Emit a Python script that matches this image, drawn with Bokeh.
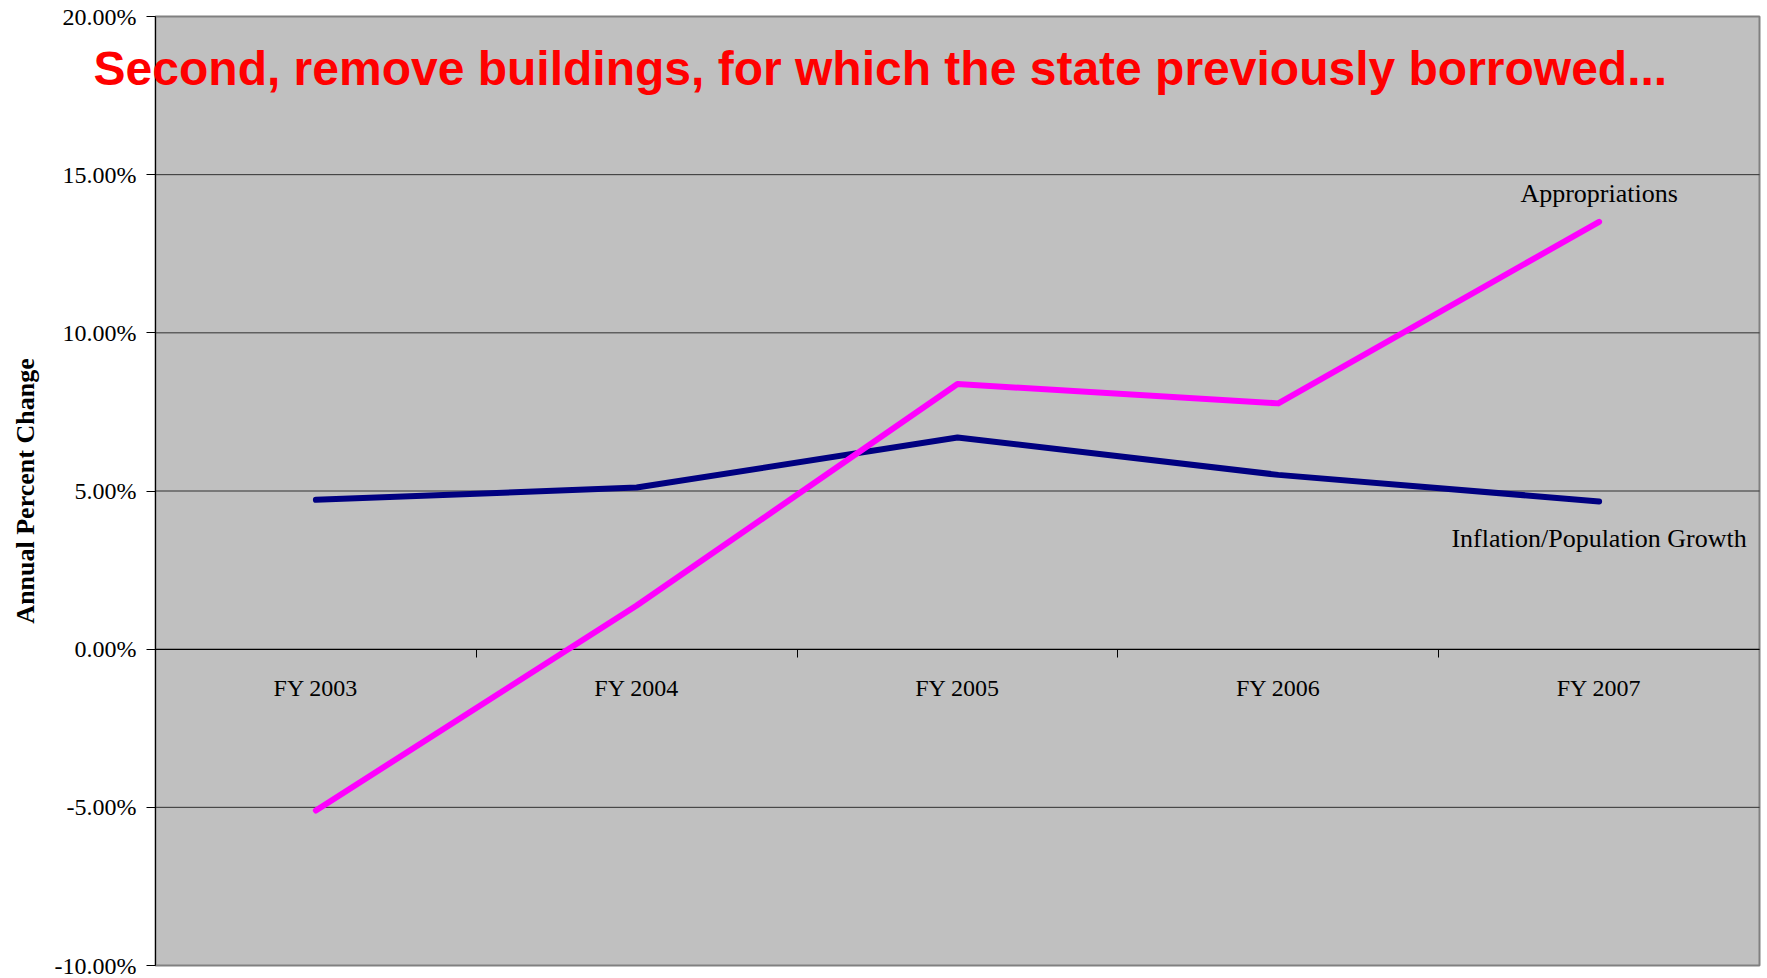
from bokeh.plotting import figure
from bokeh.models import (LinearAxis, FixedTicker, PrintfTickFormatter, Range1d,
                          Label)
from bokeh.embed import file_html
from bokeh.resources import INLINE

# ---- data ----
categories = ["FY 2003", "FY 2004", "FY 2005", "FY 2006", "FY 2007"]
appropriations = [-5.10, 1.38, 8.38, 7.77, 13.51]
inflation_population = [4.72, 5.11, 6.69, 5.51, 4.67]
y_ticks = [-10, -5, 0, 5, 10, 15, 20]
title_text = "Second, remove buildings, for which the state previously borrowed..."
y_label = "Annual Percent Change"
series_labels = ["Appropriations", "Inflation/Population Growth"]

n = len(categories)
xc = [i + 0.5 for i in range(n)]
boundaries = list(range(1, n))
y_lo, y_hi = y_ticks[0], y_ticks[-1]

SERIF = "Liberation Serif"

# The frame covers the whole canvas; the gray chart area sits inside it at
# pixels x 155..1759, y 16..965.
W, H = 1767, 978
left_px, right_px, top_px, bottom_px = 155.0, 1759.0, 16.0, 965.0
ux = (right_px - left_px) / n
uy = (bottom_px - top_px) / (y_hi - y_lo)
x_start = -left_px / ux
x_end = n + (W - right_px) / ux
y_end = y_hi + top_px / uy
y_start = y_lo - (H - bottom_px) / uy

p = figure(width=W, height=H, output_backend="svg", toolbar_location=None,
           x_range=Range1d(x_start, x_end), y_range=Range1d(y_start, y_end),
           x_axis_location=None, y_axis_location=None,
           min_border_left=0, min_border_top=0, min_border_bottom=0,
           min_border_right=0, title=None)
p.background_fill_color = "white"
p.border_fill_color = "white"
p.outline_line_color = None
p.grid.visible = False

# gray chart area with border
p.quad(left=[0], right=[n], bottom=[y_lo], top=[y_hi], fill_color="#C0C0C0",
       line_color="#808080", line_width=2, level="image")

# horizontal grid lines
inner = y_ticks[1:-1]
p.segment(x0=[0] * len(inner), x1=[n] * len(inner), y0=inner, y1=inner,
          line_color="#303030", line_width=1, level="image")

# y axis (fixed at the chart's left edge)
yax = LinearAxis(ticker=FixedTicker(ticks=y_ticks), fixed_location=0,
                 bounds=(y_lo, y_hi),
                 formatter=PrintfTickFormatter(format="%.2f%%"), level="underlay")
yax.axis_line_color = "black"
yax.axis_line_width = 1
yax.major_tick_line_color = "black"
yax.major_tick_out = 9
yax.major_tick_in = 0
yax.minor_tick_line_color = None
yax.major_label_standoff = 10
yax.major_label_text_font = SERIF
yax.major_label_text_font_size = "24px"
yax.major_label_text_color = "black"
yax.axis_label = y_label
yax.axis_label_text_font = SERIF
yax.axis_label_text_font_style = "bold"
yax.axis_label_text_font_size = "26px"
yax.axis_label_text_color = "black"
yax.axis_label_standoff = 12
p.add_layout(yax, "left")

# x axis at zero: boundary ticks
xax_ticks = LinearAxis(ticker=FixedTicker(ticks=boundaries), fixed_location=0,
                       bounds=(0, n), level="underlay")
xax_ticks.axis_line_color = "black"
xax_ticks.major_tick_line_color = "black"
xax_ticks.major_tick_out = 8
xax_ticks.major_tick_in = 0
xax_ticks.minor_tick_line_color = None
xax_ticks.major_label_text_alpha = 0
xax_ticks.major_label_text_font_size = "1px"
p.add_layout(xax_ticks, "below")

# x axis at zero: category labels
xax_lab = LinearAxis(ticker=FixedTicker(ticks=xc), fixed_location=0,
                     major_label_overrides={c: name for c, name in zip(xc, categories)},
                     level="underlay")
xax_lab.axis_line_color = None
xax_lab.major_tick_line_color = None
xax_lab.major_tick_out = 0
xax_lab.minor_tick_line_color = None
xax_lab.major_label_standoff = 26
xax_lab.major_label_text_font = SERIF
xax_lab.major_label_text_font_size = "24px"
xax_lab.major_label_text_color = "black"
p.add_layout(xax_lab, "below")

# lines
p.line(xc, inflation_population, line_color="#000080", line_width=6,
       line_cap="round", line_join="round")
p.line(xc, appropriations, line_color="#FF00FF", line_width=6,
       line_cap="round", line_join="round")

# series labels
p.add_layout(Label(x=xc[-1], y=appropriations[-1], y_offset=28, text=series_labels[0],
                   text_align="center", text_baseline="alphabetic",
                   text_font=SERIF, text_font_size="26px", text_color="black"))
p.add_layout(Label(x=xc[-1], y=inflation_population[-1], y_offset=-37,
                   text=series_labels[1], text_align="center",
                   text_baseline="alphabetic", text_font=SERIF,
                   text_font_size="26px", text_color="black"))

# red title overlay
p.add_layout(Label(x=-0.193, y=18.37, text=title_text, text_align="left",
                   text_baseline="alphabetic", text_font="Liberation Sans",
                   text_font_style="bold", text_font_size="48px",
                   text_color="#FF0000", level="overlay"))

open("out.html", "w").write(file_html(p, INLINE))
